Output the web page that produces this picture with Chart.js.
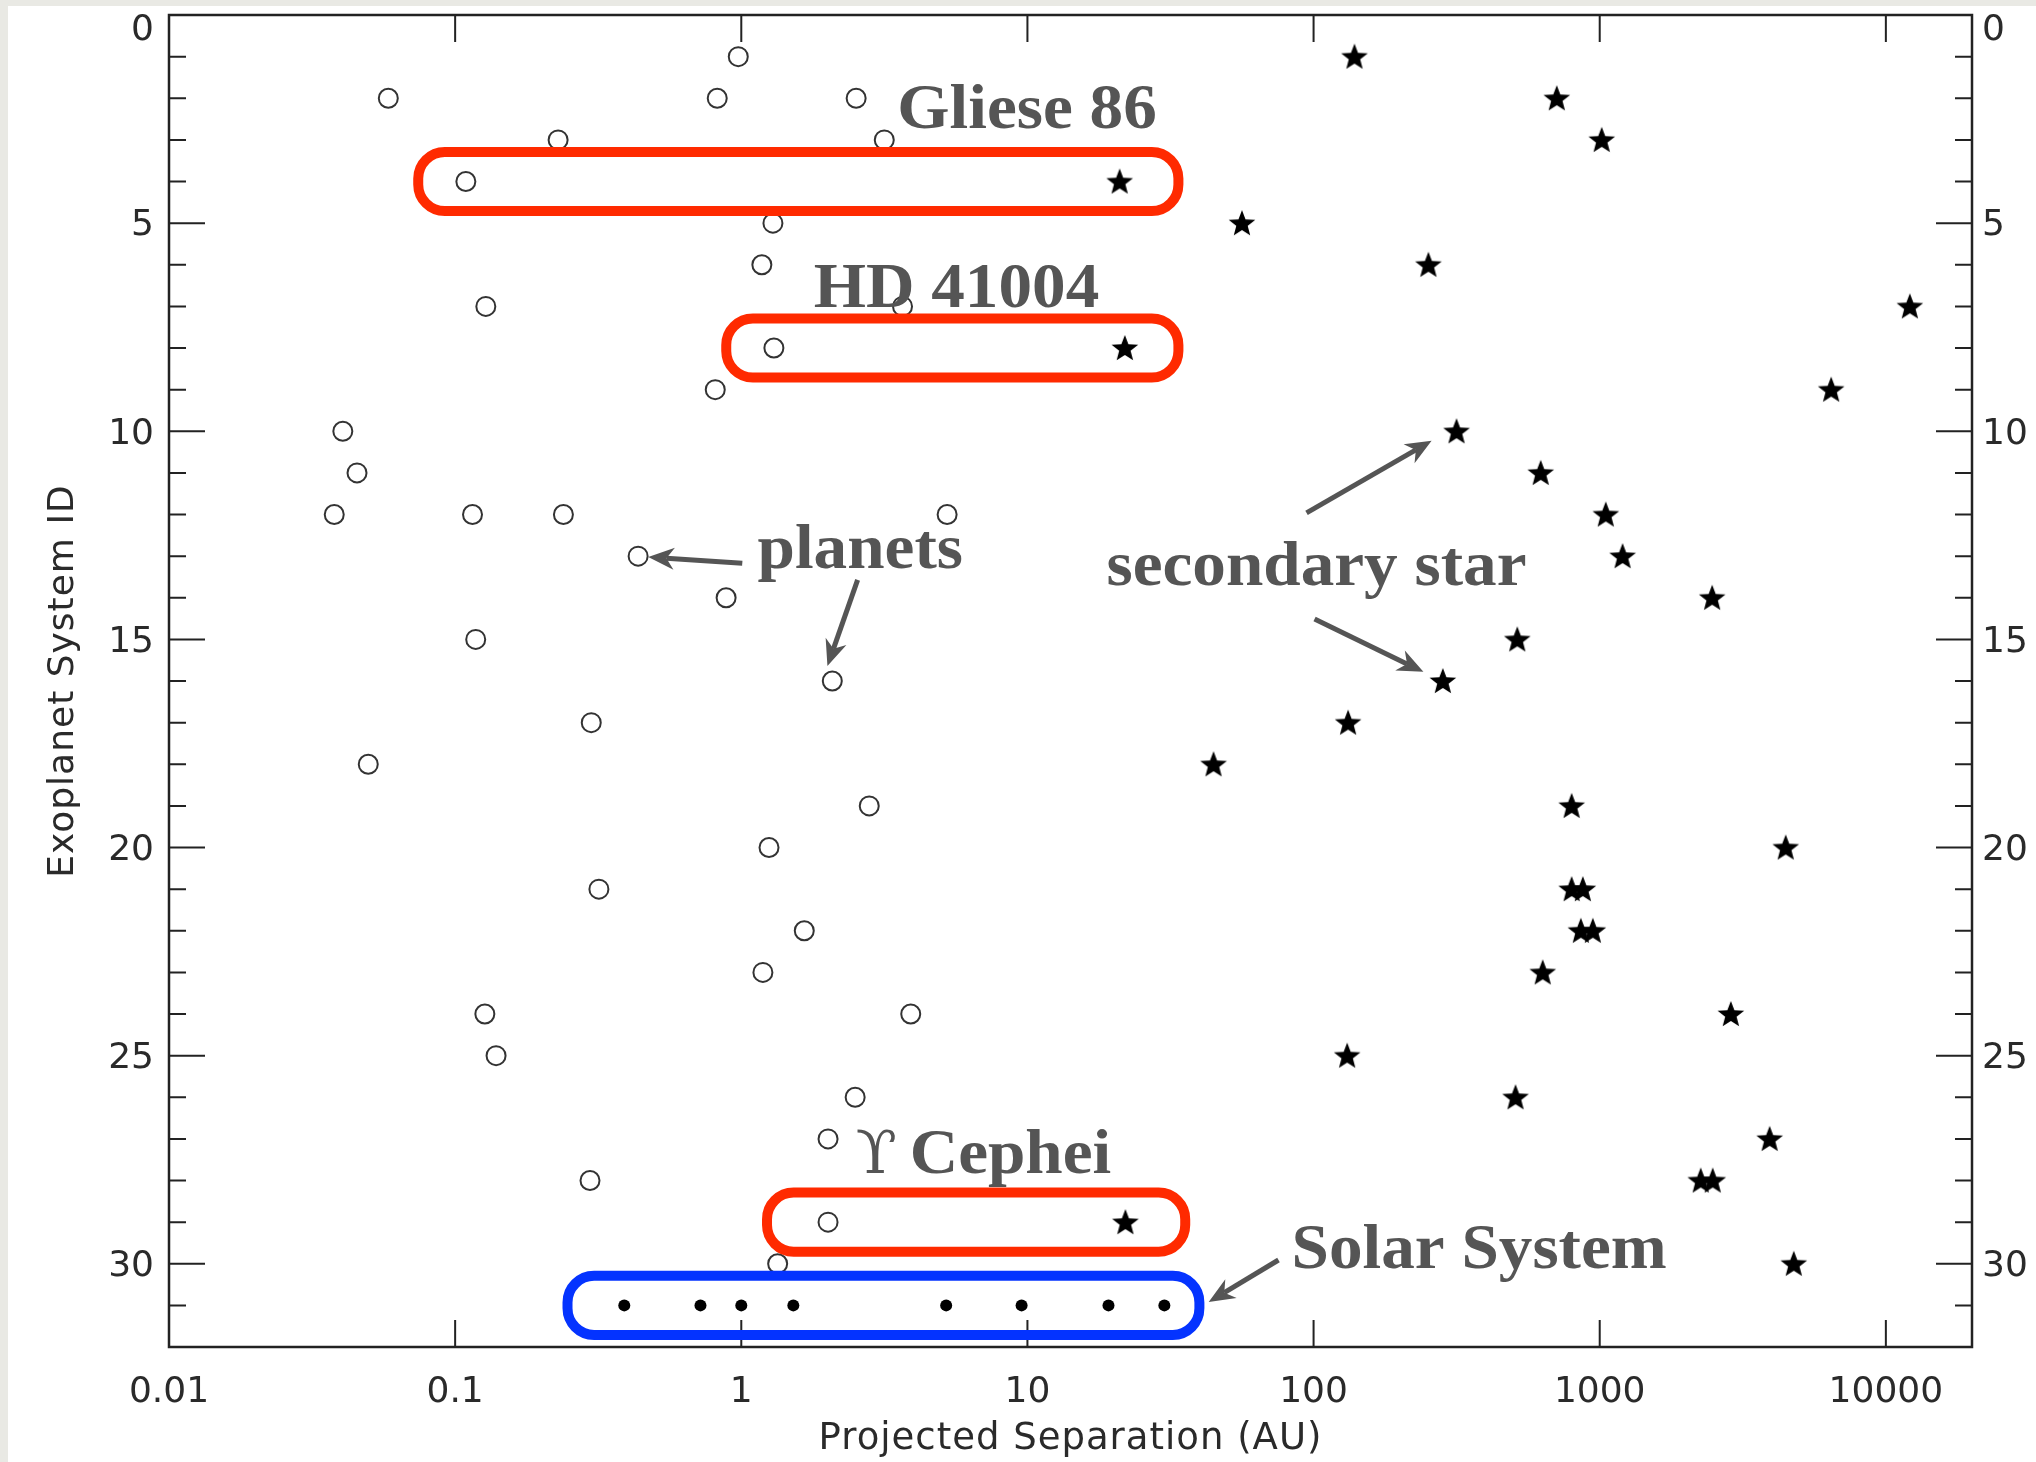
<!DOCTYPE html>
<html>
<head>
<meta charset="utf-8">
<script src="https://cdn.jsdelivr.net/npm/chart.js@4/dist/chart.umd.min.js"></script>
<style>
  html, body { margin: 0; padding: 0; background: #e9e9e4; }
  canvas { display: block; }
</style>
</head>
<body>
<canvas id="c" width="2036" height="1462"></canvas>
<script>
// ---------------- DATA ----------------
// Exoplanet system IDs (rows) 1..30
const systemIds = [1,2,3,4,5,6,7,8,9,10,11,12,13,14,15,16,17,18,19,20,21,22,23,24,25,26,27,28,29,30];

// Projected separations (AU) of planets in each system (same order as systemIds)
const planetSeps = [
  [0.976], [0.0584, 0.824, 2.52], [0.229, 3.16], [0.109], [1.29],
  [1.18], [0.128, 3.66], [1.30], [0.811], [0.0405],
  [0.0454], [0.0378, 0.115, 0.239, 5.24], [0.436], [0.885], [0.118],
  [2.08], [0.299], [0.0497], [2.80], [1.25],
  [0.318], [1.66], [1.19], [0.127, 3.91], [0.139],
  [2.50], [2.01], [0.296], [2.01], [1.34]
];

// Projected separations (AU) of the secondary star(s) in each system
const starSeps = [
  [139], [708], [1016], [21.0], [56.2],
  [252], [12130], [21.9], [6440], [316],
  [622], [1050], [1202], [2471], [515],
  [283], [132], [44.7], [798], [4467],
  [798, 873], [859, 946], [632], [2872], [131],
  [508], [3926], [2254, 2483], [22.0], [4766]
];

// Solar System (row 31): Mercury .. Neptune
const solarSystemId = 31;
const solarSeps = [0.39, 0.72, 1.0, 1.52, 5.2, 9.54, 19.2, 30.1];

// Axis ticks
const xTickValues = [0.01, 0.1, 1, 10, 100, 1000, 10000];
const yTickValues = [0, 5, 10, 15, 20, 25, 30];

// ---------------- BUILD DATASETS ----------------
const planetPoints = [];
const starPoints = [];
systemIds.forEach((id, i) => {
  planetSeps[i].forEach(s => planetPoints.push({x: s, y: id}));
  starSeps[i].forEach(s => starPoints.push({x: s, y: id}));
});
const solarPoints = solarSeps.map(s => ({x: s, y: solarSystemId}));

// filled five-pointed star marker
function makeStar(outer, inner) {
  const size = Math.ceil(outer * 2 + 4);
  const cv = document.createElement('canvas');
  cv.width = size; cv.height = size;
  const g = cv.getContext('2d');
  const c = size / 2;
  g.beginPath();
  for (let k = 0; k < 10; k++) {
    const r = k % 2 === 0 ? outer : inner;
    const a = -Math.PI / 2 + k * Math.PI / 5;
    const px = c + r * Math.cos(a), py = c + r * Math.sin(a) + 1;
    if (k === 0) g.moveTo(px, py); else g.lineTo(px, py);
  }
  g.closePath();
  g.fillStyle = '#000';
  g.fill();
  return cv;
}
const starMarker = makeStar(14, 6);

// ---------------- ANNOTATIONS (overlay, data coordinates) ----------------
const annotationCfg = {
  boxes: [
    {row: 4,  from: 0.0743, to: 33.7, color: '#ff2a00'},
    {row: 8,  from: 0.886,  to: 33.7, color: '#ff2a00'},
    {row: 29, from: 1.23,   to: 35.6, color: '#ff2a00'},
    {row: 31, from: 0.247,  to: 39.9, color: '#0433ff'}
  ],
  labels: [
    {text: 'Gliese 86',      x: 3.51, y: 2.71},
    {text: 'HD 41004',       x: 1.79, y: 7.01},
    {prefix: 'ϒ', text: ' Cephei', x: 2.51, y: 27.82},
    {text: 'planets',        x: 1.14, y: 13.29},
    {text: 'secondary star', x: 18.9, y: 13.69},
    {text: 'Solar System',   x: 83.8, y: 30.1}
  ],
  arrows: [
    {from: [1.008, 13.17], to: [0.473, 13.02]},
    {from: [2.55, 13.57],  to: [2.0, 15.64]},
    {from: [94.5, 11.96],  to: [258.5, 10.23]},
    {from: [100.8, 14.51], to: [242, 15.78]},
    {from: [75.4, 29.91],  to: [43, 30.92]}
  ]
};

const pageBackground = {
  id: 'pageBackground',
  beforeDraw(chart) {
    const ctx = chart.ctx;
    ctx.save();
    ctx.fillStyle = '#e9e9e4';
    ctx.fillRect(0, 0, chart.width, chart.height);
    ctx.fillStyle = '#ffffff';
    ctx.fillRect(8, 6, chart.width - 8, chart.height - 6);
    ctx.restore();
    // axis titles are drawn (before the datasets) with a little letter spacing
    ctx.letterSpacing = '1px';
  },
  beforeDatasetsDraw(chart) {
    chart.ctx.letterSpacing = '0px';
  }
};

const frameTicks = {
  id: 'frameTicks',
  afterDatasetsDraw(chart) {
    const {ctx, chartArea: a} = chart;
    const xs = chart.scales.x, ys = chart.scales.y;
    ctx.save();
    ctx.strokeStyle = '#222';
    ctx.lineWidth = 2.5;
    ctx.strokeRect(a.left, a.top, a.right - a.left, a.bottom - a.top);
    ctx.lineWidth = 2;
    ctx.beginPath();
    xs.ticks.forEach(t => {
      const px = xs.getPixelForValue(t.value);
      ctx.moveTo(px, a.bottom); ctx.lineTo(px, a.bottom - 27);
      ctx.moveTo(px, a.top);    ctx.lineTo(px, a.top + 27);
    });
    for (let v = Math.ceil(ys.min); v <= ys.max; v++) {
      const py = ys.getPixelForValue(v);
      const len = (v % 5 === 0) ? 36 : 17;
      ctx.moveTo(a.left, py);  ctx.lineTo(a.left + len, py);
      ctx.moveTo(a.right, py); ctx.lineTo(a.right - len, py);
    }
    ctx.stroke();
    ctx.restore();
  }
};

const overlay = {
  id: 'overlay',
  afterDatasetsDraw(chart) {
    const {ctx} = chart;
    const xs = chart.scales.x, ys = chart.scales.y;
    const halfH = 0.71 * (ys.getPixelForValue(1) - ys.getPixelForValue(0));
    ctx.save();
    // boxes
    ctx.lineWidth = 10;
    annotationCfg.boxes.forEach(b => {
      const x1 = xs.getPixelForValue(b.from), x2 = xs.getPixelForValue(b.to);
      const yc = ys.getPixelForValue(b.row);
      ctx.strokeStyle = b.color;
      ctx.beginPath();
      ctx.roundRect(x1, yc - halfH, x2 - x1, 2 * halfH, halfH * 0.9);
      ctx.stroke();
    });
    // arrows
    ctx.strokeStyle = '#555';
    ctx.fillStyle = '#555';
    ctx.lineWidth = 5;
    annotationCfg.arrows.forEach(ar => {
      const x0 = xs.getPixelForValue(ar.from[0]), y0 = ys.getPixelForValue(ar.from[1]);
      const x1 = xs.getPixelForValue(ar.to[0]),   y1 = ys.getPixelForValue(ar.to[1]);
      const ang = Math.atan2(y1 - y0, x1 - x0);
      const L = 26, W = 11;
      const bx = x1 - (L * 0.7) * Math.cos(ang), by = y1 - (L * 0.7) * Math.sin(ang);
      ctx.beginPath();
      ctx.moveTo(x0, y0); ctx.lineTo(bx, by);
      ctx.stroke();
      const cx = x1 - L * Math.cos(ang), cy = y1 - L * Math.sin(ang);
      const nx = -Math.sin(ang), ny = Math.cos(ang);
      ctx.beginPath();
      ctx.moveTo(x1, y1);
      ctx.lineTo(cx + W * nx, cy + W * ny);
      ctx.lineTo(bx, by);
      ctx.lineTo(cx - W * nx, cy - W * ny);
      ctx.closePath();
      ctx.fill();
    });
    // labels
    const boldFont = 'bold 64px "Liberation Serif", "DejaVu Serif", serif';
    const lightFont = '60px "DejaVu Serif", "Liberation Serif", serif';
    ctx.textAlign = 'left';
    ctx.textBaseline = 'alphabetic';
    annotationCfg.labels.forEach(l => {
      let px = xs.getPixelForValue(l.x);
      const py = ys.getPixelForValue(l.y);
      if (l.prefix) {
        ctx.font = lightFont;
        ctx.fillText(l.prefix, px, py);
        px += ctx.measureText(l.prefix).width - 4;
      }
      ctx.font = boldFont;
      ctx.save();
      ctx.translate(px, py);
      ctx.scale(1.05, 1);
      ctx.fillText(l.text, 0, 0);
      ctx.restore();
    });
    ctx.restore();
  }
};

const tickFont = {family: '"DejaVu Sans", sans-serif', size: 36, lineHeight: 0.72};
const yTickLabel = v => (v === 0 ? ['', '0'] : String(v));
const yAxisBase = {
  type: 'linear',
  reverse: true,
  min: 0,
  max: 32,
  grid: {display: false, drawTicks: false},
  border: {display: false},
  afterBuildTicks: s => { s.ticks = yTickValues.map(v => ({value: v})); },
};

new Chart(document.getElementById('c'), {
  type: 'scatter',
  data: {
    datasets: [
      {
        label: 'planets',
        data: planetPoints,
        pointStyle: 'circle',
        pointRadius: 9.5,
        pointBorderWidth: 2,
        pointBorderColor: '#333',
        pointBackgroundColor: 'rgba(0,0,0,0)'
      },
      {
        label: 'secondary star',
        data: starPoints,
        pointStyle: starMarker,
        pointRadius: 14
      },
      {
        label: 'Solar System',
        data: solarPoints,
        pointStyle: 'circle',
        pointRadius: 6,
        pointBorderWidth: 0,
        pointBackgroundColor: '#000'
      }
    ]
  },
  options: {
    responsive: false,
    animation: false,
    events: [],
    layout: {padding: {top: 15, left: 0, right: 0, bottom: 0}},
    plugins: {legend: {display: false}, tooltip: {enabled: false}},
    scales: {
      x: {
        type: 'logarithmic',
        position: 'bottom',
        min: 0.01,
        max: 20000,
        grid: {display: false, drawTicks: false},
        border: {display: false},
        afterBuildTicks: s => { s.ticks = xTickValues.map(v => ({value: v})); },
        afterFit: s => { s.height = 115; s.paddingLeft = 0; s.paddingRight = 0; },
        ticks: {
          autoSkip: false, maxRotation: 0, padding: 24, z: 1,
          font: {family: '"DejaVu Sans", sans-serif', size: 36}, color: '#2a2a2a',
          callback: v => String(v)
        },
        title: {
          display: true, text: 'Projected Separation (AU)',
          font: {family: '"DejaVu Sans", sans-serif', size: 37}, color: '#2a2a2a',
          padding: {top: 0, bottom: 0}
        }
      },
      y: Object.assign({}, yAxisBase, {
        position: 'left',
        afterFit: s => { s.width = 169; s.paddingTop = 0; s.paddingBottom = 0; },
        ticks: {padding: 15, labelOffset: 3, z: 1, font: tickFont, color: '#2a2a2a', callback: yTickLabel},
        title: {
          display: true, text: 'Exoplanet System ID',
          font: {family: '"DejaVu Sans", sans-serif', size: 36}, color: '#2a2a2a',
          padding: {top: 42, bottom: 0}
        }
      }),
      y2: Object.assign({}, yAxisBase, {
        position: 'right',
        afterFit: s => { s.width = 64; s.paddingTop = 0; s.paddingBottom = 0; },
        ticks: {padding: 10, labelOffset: 3, z: 1, font: tickFont, color: '#2a2a2a', callback: yTickLabel}
      })
    }
  },
  plugins: [pageBackground, frameTicks, overlay]
});
</script>
</body>
</html>
